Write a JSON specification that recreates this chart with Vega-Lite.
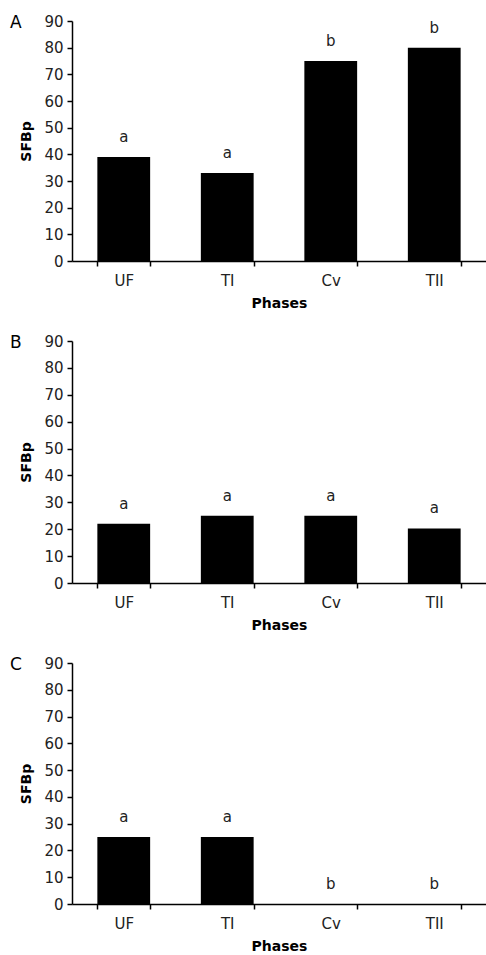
{
  "$schema": "https://vega.github.io/schema/vega-lite/v6.json",
  "padding": {"left": 9, "top": 14, "right": 0, "bottom": 0},
  "background": "white",
  "config": {
    "font": "DejaVu Sans",
    "view": {"stroke": null},
    "concat": {"spacing": 24},
    "axis": {
      "grid": false,
      "domainColor": "black",
      "tickColor": "black",
      "labelColor": "#222222",
      "titleColor": "black",
      "labelFontSize": 15,
      "titleFontSize": 14,
      "titleFontWeight": "bold",
      "labelFont": "DejaVu Sans",
      "titleFont": "DejaVu Sans",
      "tickSize": 5,
      "domainWidth": 1.5,
      "tickWidth": 1.5
    },
    "title": {"fontSize": 17, "fontWeight": "normal", "font": "DejaVu Sans", "color": "black"}
  },
  "datasets": {
    "A": [
      {"phase": "UF", "sfbp": 39, "letter": "a"},
      {"phase": "TI", "sfbp": 33, "letter": "a"},
      {"phase": "Cv", "sfbp": 75, "letter": "b"},
      {"phase": "TII", "sfbp": 80, "letter": "b"}
    ],
    "B": [
      {"phase": "UF", "sfbp": 22, "letter": "a"},
      {"phase": "TI", "sfbp": 25, "letter": "a"},
      {"phase": "Cv", "sfbp": 25, "letter": "a"},
      {"phase": "TII", "sfbp": 20.3, "letter": "a"}
    ],
    "C": [
      {"phase": "UF", "sfbp": 25, "letter": "a"},
      {"phase": "TI", "sfbp": 25, "letter": "a"},
      {"phase": "Cv", "sfbp": 0, "letter": "b"},
      {"phase": "TII", "sfbp": 0, "letter": "b"}
    ]
  },
  "vconcat": [
    {
      "title": {"text": "A", "anchor": "start", "frame": "bounds", "offset": -18, "dx": -10},
      "width": 414, "height": 240,
      "data": {"name": "A"},
      "encoding": {
        "x": {"field": "phase", "type": "nominal", "sort": ["UF", "TI", "Cv", "TII"],
              "scale": {"paddingInner": 0.49, "paddingOuter": 0.245},
              "axis": {"title": "Phases", "labelAngle": 0, "tickBand": "extent", "labelPadding": 7, "titlePadding": 8}},
        "y": {"field": "sfbp", "type": "quantitative", "scale": {"domain": [0, 90], "nice": false},
              "axis": {"title": "SFBp", "values": [0,10,20,30,40,50,60,70,80,90], "labelPadding": 4, "titlePadding": 10}}
      },
      "layer": [
        {"mark": {"type": "bar", "color": "black"}},
        {"mark": {"type": "text", "dy": -20, "fontSize": 15, "color": "#222222"}, "encoding": {"text": {"field": "letter"}}}
      ]
    },
    {
      "title": {"text": "B", "anchor": "start", "frame": "bounds", "offset": -18, "dx": -10},
      "width": 414, "height": 242,
      "data": {"name": "B"},
      "encoding": {
        "x": {"field": "phase", "type": "nominal", "sort": ["UF", "TI", "Cv", "TII"],
              "scale": {"paddingInner": 0.49, "paddingOuter": 0.245},
              "axis": {"title": "Phases", "labelAngle": 0, "tickBand": "extent", "labelPadding": 7, "titlePadding": 8}},
        "y": {"field": "sfbp", "type": "quantitative", "scale": {"domain": [0, 90], "nice": false},
              "axis": {"title": "SFBp", "values": [0,10,20,30,40,50,60,70,80,90], "labelPadding": 4, "titlePadding": 10}}
      },
      "layer": [
        {"mark": {"type": "bar", "color": "black"}},
        {"mark": {"type": "text", "dy": -20, "fontSize": 15, "color": "#222222"}, "encoding": {"text": {"field": "letter"}}}
      ]
    },
    {
      "title": {"text": "C", "anchor": "start", "frame": "bounds", "offset": -18, "dx": -10},
      "width": 414, "height": 241,
      "data": {"name": "C"},
      "encoding": {
        "x": {"field": "phase", "type": "nominal", "sort": ["UF", "TI", "Cv", "TII"],
              "scale": {"paddingInner": 0.49, "paddingOuter": 0.245},
              "axis": {"title": "Phases", "labelAngle": 0, "tickBand": "extent", "labelPadding": 7, "titlePadding": 8}},
        "y": {"field": "sfbp", "type": "quantitative", "scale": {"domain": [0, 90], "nice": false},
              "axis": {"title": "SFBp", "values": [0,10,20,30,40,50,60,70,80,90], "labelPadding": 4, "titlePadding": 10}}
      },
      "layer": [
        {"mark": {"type": "bar", "color": "black"}},
        {"mark": {"type": "text", "dy": -20, "fontSize": 15, "color": "#222222"}, "encoding": {"text": {"field": "letter"}}}
      ]
    }
  ]
}
